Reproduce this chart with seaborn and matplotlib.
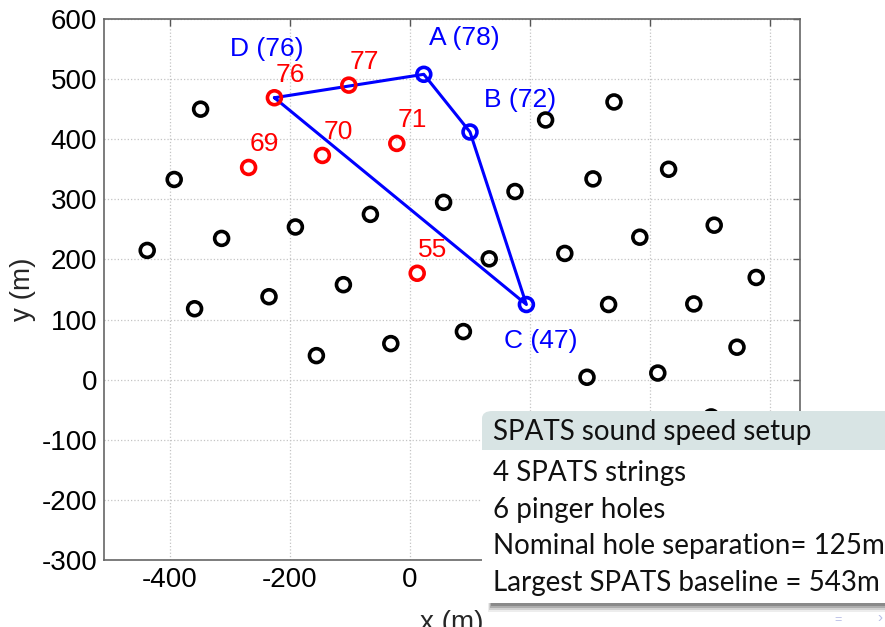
import matplotlib
matplotlib.use("Agg")
import matplotlib.pyplot as plt
import pandas as pd
import seaborn as sns
from matplotlib.patches import Rectangle, FancyBboxPatch

# IceCube string positions (m) in the SPATS region
string_x = [-349, -393, -438, -359, -314, -235, -191, -156, -111, -66, -32,
            56, 89, 132, 175, 226, 258, 305, 340, 383, 431, 331, 473, 507,
            577, 545, 413, 295, 502]
string_y = [450, 333, 215, 118, 235, 138, 254, 40, 158, 275, 60,
            295, 80, 201, 313, 432, 210, 334, 462, 237, 350, 125, 126, 257,
            170, 54, 11, 4, -62]

# Pinger holes
pinger_x = [-226, -102, -269, -146, -22, 12]
pinger_y = [469, 490, 353, 373, 393, 177]
pinger_labels = ["76", "77", "69", "70", "71", "55"]

# SPATS strings (hole number in brackets), outlined D -> A -> B -> C -> D
spats_labels = ["D (76)", "A (78)", "B (72)", "C (47)"]
spats_x = [-226, 23, 100, 194]
spats_y = [469, 508, 412, 125]

x_ticks = [-400, -200, 0, 200, 400, 600]
x_tick_labels = ["-400", "-200", "0", "", "", ""]  # right part sits under the info block
y_ticks = [-300, -200, -100, 0, 100, 200, 300, 400, 500, 600]

info_title = "SPATS sound speed setup"
info_lines = ["4 SPATS strings", "6 pinger holes",
              "Nominal hole separation= 125m", "Largest SPATS baseline = 543m"]

sns.set_style("white")
plt.rcParams["font.family"] = ["Liberation Sans", "DejaVu Sans"]
plt.rcParams["axes.unicode_minus"] = False

W, H = 885, 627
fig = plt.figure(figsize=(W / 100, H / 100), dpi=100)
ax = fig.add_axes([104 / W, 1 - 560 / H, 696 / W, 541 / H])

strings = pd.DataFrame({"x": string_x, "y": string_y})
pingers = pd.DataFrame({"x": pinger_x, "y": pinger_y, "label": pinger_labels})
spats = pd.DataFrame({"x": spats_x, "y": spats_y, "label": spats_labels})
outline = pd.concat([spats, spats.iloc[[0]]], ignore_index=True)

ring = dict(marker="o", s=100, facecolors="none", linewidth=2.6, zorder=3)
sns.scatterplot(data=strings, x="x", y="y", edgecolor="black", ax=ax, **ring)
sns.lineplot(data=outline, x="x", y="y", sort=False, estimator=None,
             color="#0000ff", linewidth=2.2, ax=ax, zorder=2)
sns.scatterplot(data=spats.iloc[1:], x="x", y="y", edgecolor="#0000ff", ax=ax, **ring)
sns.scatterplot(data=pingers, x="x", y="y", edgecolor="#ff0000", ax=ax, **ring)

for _, r in pingers.iterrows():
    ax.annotate(r["label"], (r["x"], r["y"]), xytext=(1, 23),
                textcoords="offset pixels", ha="left", va="center",
                color="#ff0000", fontsize=19)

# label offsets in pixels for D, A, B, C
spats_offsets = [(-44, 49), (5, 36), (14, 32), (-22, -36)]
for (_, r), off in zip(spats.iterrows(), spats_offsets):
    ax.annotate(r["label"], (r["x"], r["y"]), xytext=off,
                textcoords="offset pixels", ha="left", va="center",
                color="#0000ff", fontsize=19)

ax.set_xlim(-510, 650)
ax.set_ylim(-300, 600)
ax.set_xticks(x_ticks)
ax.set_xticklabels(x_tick_labels)
ax.set_yticks(y_ticks)
ax.set_yticklabels([str(v) for v in y_ticks])
ax.grid(True, linestyle=":", color="#c4c4c4", linewidth=0.9)
ax.tick_params(direction="in", length=5, width=1, top=True, right=True,
               labelsize=20, colors="#555555", labelcolor="black", pad=5)
for s in ax.spines.values():
    s.set_color("#666666")
    s.set_linewidth(1.2)
ax.set_xlabel("x (m)", fontsize=20, labelpad=12)
ax.set_ylabel("y (m)", fontsize=20, labelpad=4)

# information block overlaid on the lower right
def fx(px):
    return px / W

def fy(py):
    return 1 - py / H

for i, a in enumerate([0.10, 0.18, 0.28, 0.40]):
    fig.patches.append(Rectangle((fx(488 + i), fy(612 - i * 2)), fx(W - 488), (10 - i * 2) / H,
                                 transform=fig.transFigure, facecolor="#555555",
                                 alpha=a, edgecolor="none", zorder=5))
fig.patches.append(Rectangle((fx(482), fy(603)), fx(W - 482 + 20), 153 / H,
                             transform=fig.transFigure, facecolor="white",
                             edgecolor="none", zorder=6))
fig.patches.append(FancyBboxPatch((fx(482), fy(450)), fx(W - 482 + 20), 39 / H,
                                  boxstyle="round,pad=0,rounding_size=0.012",
                                  transform=fig.transFigure, facecolor="#d8e4e4",
                                  edgecolor="none", zorder=7))
fig.patches.append(Rectangle((fx(482), fy(450)), fx(W - 482 + 20), 20 / H,
                             transform=fig.transFigure, facecolor="#d8e4e4",
                             edgecolor="none", zorder=7))
fig.text(fx(493), fy(432), info_title, fontsize=20, family=["Lato", "DejaVu Sans"],
         va="center", ha="left", color="#111111", zorder=8)
for i, line in enumerate(info_lines):
    fig.text(fx(493), fy(473 + i * 36.7), line, fontsize=20,
             family=["Lato", "DejaVu Sans"], va="center", ha="left",
             color="#111111", zorder=8)

# navigation glyphs in the corner
fig.text(fx(838), fy(620), "=", fontsize=9, color="#b8bde6", va="center", ha="center")
fig.text(fx(880), fy(618), "›", fontsize=11, color="#b8bde6", va="center", ha="center")

fig.savefig("out.png", dpi=100)
